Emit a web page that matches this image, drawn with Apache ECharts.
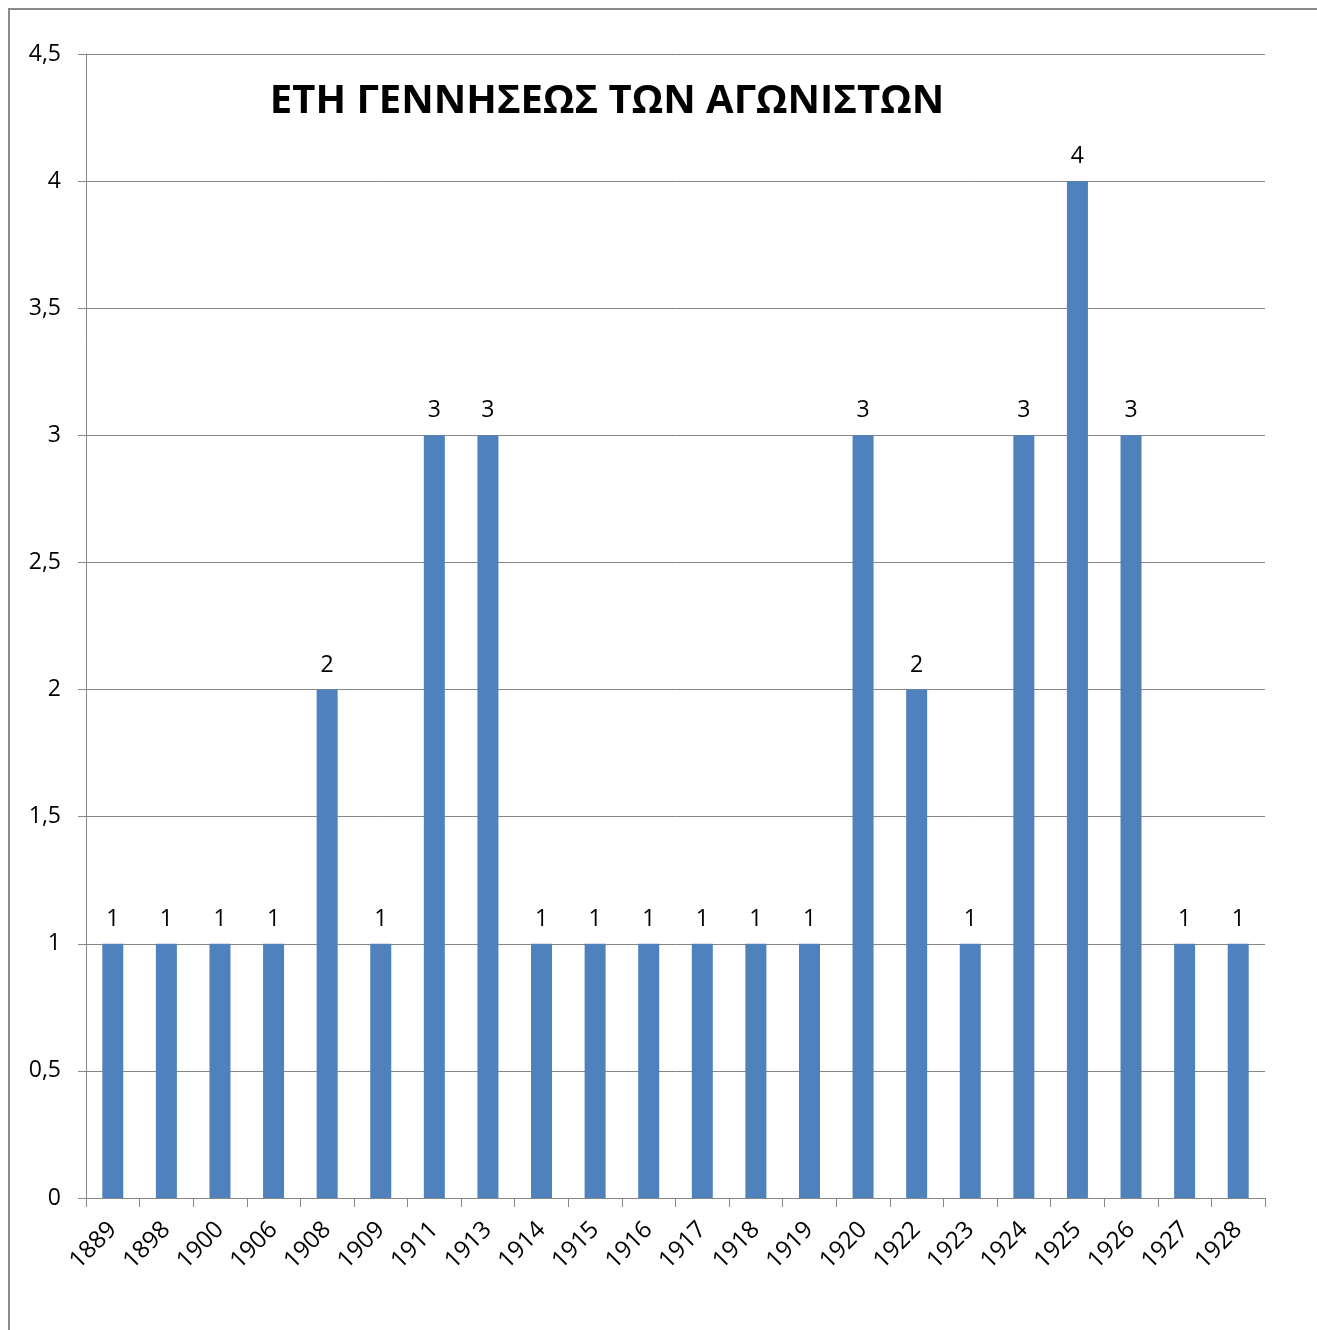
<!DOCTYPE html>
<html>
<head>
<meta charset="utf-8">
<script src="https://cdn.jsdelivr.net/npm/echarts@6/dist/echarts.min.js"></script>
<style>
html,body{margin:0;padding:0;background:#fff;}
#chart{width:1317px;height:1330px;}
</style>
</head>
<body>
<div id="chart"></div>
<script>
const titleText = 'ΕΤΗ ΓΕΝΝΗΣΕΩΣ ΤΩΝ ΑΓΩΝΙΣΤΩΝ';
const years = ['1889','1898','1900','1906','1908','1909','1911','1913','1914','1915','1916','1917','1918','1919','1920','1922','1923','1924','1925','1926','1927','1928'];
const counts = [1,1,1,1,2,1,3,3,1,1,1,1,1,1,3,2,1,3,4,3,1,1];
const yTicks = {min:0, max:4.5, interval:0.5};

const chart = echarts.init(document.getElementById('chart'), null, {renderer:'canvas'});
const FONT = '"Open Sans", sans-serif';
chart.setOption({
  animation:false,
  backgroundColor:'#fff',
  title:{
    text:titleText,
    left:602, top:77,
    textAlign:'center',
    textStyle:{fontFamily:FONT, fontWeight:'bold', fontSize:40, color:'#000'}
  },
  graphic:[{
    type:'rect', silent:true, z:-1,
    shape:{x:9, y:9, width:1400, height:1400},
    style:{fill:'none', stroke:'#8a8a8a', lineWidth:2}
  }],
  grid:{left:86, right:52, top:54, bottom:132, containLabel:false},
  xAxis:{
    type:'category',
    data:years,
    boundaryGap:true,
    axisLine:{lineStyle:{color:'#868686', width:1}},
    axisTick:{show:true, length:9, alignWithLabel:false, lineStyle:{color:'#868686'}},
    axisLabel:{rotate:45, margin:28, fontFamily:FONT, fontSize:24, color:'#000', interval:0}
  },
  yAxis:{
    type:'value',
    min:yTicks.min, max:yTicks.max, interval:yTicks.interval,
    axisLine:{show:true, lineStyle:{color:'#868686', width:1}},
    axisTick:{show:true, length:8, lineStyle:{color:'#868686'}},
    splitLine:{lineStyle:{color:'#868686', width:1}},
    axisLabel:{margin:25, fontFamily:FONT, fontSize:23, color:'#000',
      formatter:v=>String(v).replace('.',',')}
  },
  series:[{
    type:'bar',
    data:counts,
    barWidth:21,
    itemStyle:{color:'#4F81BD'},
    label:{show:true, position:'top', distance:13, fontFamily:FONT, fontSize:23, color:'#000'}
  }]
});
</script>
</body>
</html>
